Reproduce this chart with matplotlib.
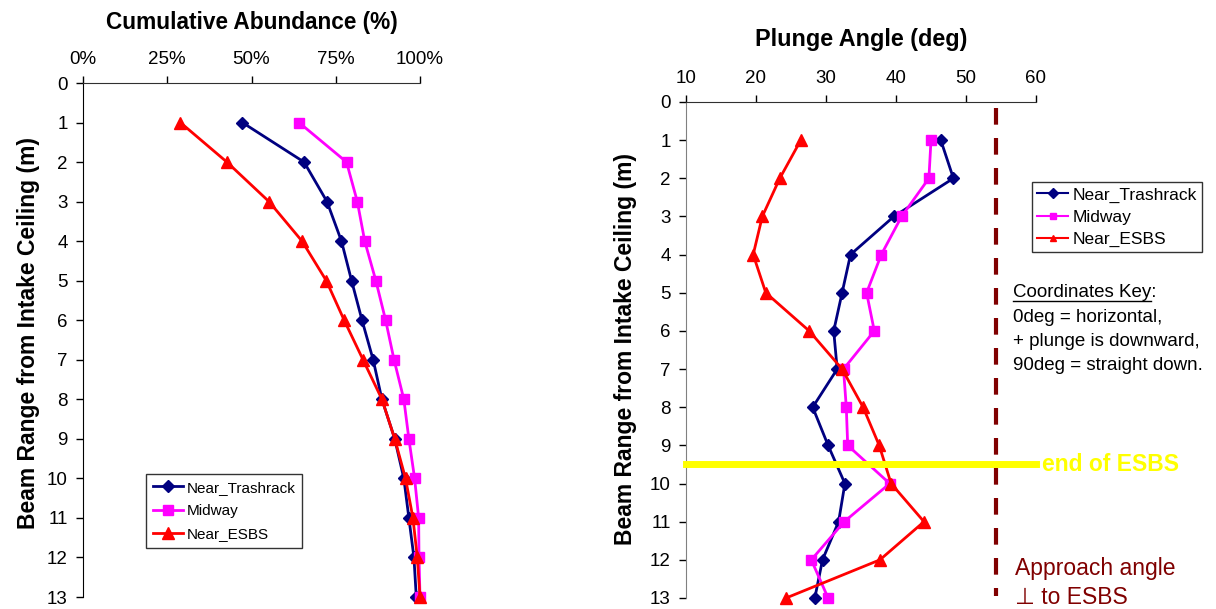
import numpy as np
import matplotlib
matplotlib.use("Agg")
import matplotlib.pyplot as plt
from matplotlib.lines import Line2D

plt.rcParams['font.family'] = ['Liberation Sans', 'DejaVu Sans']

# beam range bins (m)
depth = np.arange(1, 14)

# cumulative abundance (%)
abund_trash = [47.3, 65.6, 72.4, 76.7, 79.7, 82.8, 86.1, 88.7, 92.5, 95.2, 96.7, 98.2, 98.9]
abund_mid = [64.1, 78.2, 81.4, 83.6, 86.9, 89.8, 92.3, 95.2, 96.7, 98.4, 99.6, 99.7, 100.0]
abund_esbs = [28.9, 42.7, 55.2, 65.0, 72.2, 77.5, 83.1, 88.7, 92.5, 95.7, 97.9, 99.2, 100.0]

# plunge angle (deg)
plunge_trash = [46.4, 48.2, 39.7, 33.5, 32.3, 31.1, 31.6, 28.1, 30.3, 32.7, 31.8, 29.5, 28.4]
plunge_mid = [45.0, 44.7, 40.8, 37.9, 35.8, 36.9, 32.5, 32.9, 33.1, 39.1, 32.6, 27.9, 30.3]
plunge_esbs = [26.4, 23.4, 20.9, 19.6, 21.4, 27.6, 32.3, 35.3, 37.6, 39.3, 44.0, 37.7, 24.3]

series_names = ['Near_Trashrack', 'Midway', 'Near_ESBS']
colors = ['#000080', '#FF00FF', '#FF0000']
markers = ['D', 's', '^']
msizes = [6, 7, 8]

perp_angle = 54.35   # approach angle perpendicular to ESBS
esbs_end = 9.5       # end of ESBS (m)

fig = plt.figure(figsize=(12.16, 6.09), dpi=100)
W, H = 1216, 609
ax1 = fig.add_axes([83 / W, 1 - 597 / H, (420 - 83) / W, (597 - 83) / H])
ax2 = fig.add_axes([686 / W, 1 - 598 / H, (1036 - 686) / W, (598 - 102) / H])


def style_axis(ax, spine_col, ylab_xy):
    ax.set_ylim(13, 0)
    ax.set_yticks(range(0, 14))
    ax.xaxis.tick_top()
    ax.xaxis.set_label_position('top')
    ax.spines['right'].set_visible(False)
    ax.spines['bottom'].set_visible(False)
    ax.spines['top'].set_color('#303030')
    ax.spines['left'].set_color(spine_col)
    ax.tick_params(axis='both', direction='out', length=5, width=1,
                   labelsize=13.5, colors='black')
    ax.tick_params(axis='x', pad=6)
    ax.tick_params(axis='y', pad=6)
    ax.set_ylabel('Beam Range from Intake Ceiling (m)', fontsize=16.5,
                  fontweight='bold')
    ax.yaxis.set_label_coords(*ylab_xy)


# left: cumulative abundance
for vals, name, c, m, s in zip([abund_trash, abund_mid, abund_esbs],
                               series_names, colors, markers, msizes):
    ax1.plot(vals, depth, color=c, marker=m, markersize=s, lw=2, label=name,
             clip_on=False)
ax1.set_xlim(0, 100)
ax1.set_xticks([0, 25, 50, 75, 100])
ax1.set_xticklabels(['0%', '25%', '50%', '75%', '100%'])
style_axis(ax1, '#000000', (-0.127, 0.514))
ax1.set_xlabel('Cumulative Abundance (%)', fontsize=16.3, fontweight='bold',
               labelpad=16)
leg1 = ax1.legend(loc='lower left', bbox_to_anchor=(146 / W, 1 - 548 / H),
                  bbox_transform=fig.transFigure, frameon=True, fancybox=False,
                  edgecolor='black', fontsize=11, handlelength=2.0,
                  handletextpad=0.2, borderpad=0.45, labelspacing=0.6,
                  borderaxespad=0)
leg1.get_frame().set_linewidth(1)

# right: plunge angle
lines2 = []
for vals, name, c, m, s in zip([plunge_trash, plunge_mid, plunge_esbs],
                               series_names, colors, markers, msizes):
    ln, = ax2.plot(vals, depth, color=c, marker=m, markersize=s, lw=2,
                   label=name, clip_on=False)
    lines2.append(ln)
ax2.set_xlim(10, 60)
ax2.set_xticks(range(10, 61, 10))
style_axis(ax2, '#808080', (-0.140, 0.502))
ax2.set_xlabel('Plunge Angle (deg)', fontsize=16.8, fontweight='bold',
               labelpad=17)

ax2.plot([perp_angle, perp_angle], [0.15, 12.95], color='#800000', lw=3,
         dashes=(4, 3.2), clip_on=False)
ax2.plot([10, 60], [esbs_end, esbs_end], color='#FFFF00', lw=5,
         clip_on=False, zorder=5)
ax2.text(60.9, esbs_end, 'end of ESBS', color='#FFFF00', fontsize=16.5,
         fontweight='bold', va='center', ha='left', clip_on=False)

leg2 = fig.legend(handles=lines2, loc='upper left',
                  bbox_to_anchor=(1032 / W, 1 - 182 / H), frameon=True,
                  fancybox=False, edgecolor='black', fontsize=12.5,
                  handlelength=1.8, handletextpad=0.25, borderpad=0.3,
                  labelspacing=0.4, borderaxespad=0)
for ln in leg2.get_lines():
    ln.set_linewidth(1.5)
    ln.set_markersize(5)
leg2.get_frame().set_linewidth(1)

# coordinates key
kx = 1013 / W
t = fig.text(kx, 1 - 292 / H, 'Coordinates Key', fontsize=13.5,
             va='center', ha='left')
fig.text(kx, 1 - 292 / H, 'Coordinates Key:', fontsize=13.5,
         va='center', ha='left')
t.set_alpha(0)
key_lines = ['0deg = horizontal,', '+ plunge is downward,',
             '90deg = straight down.']
for i, s in enumerate(key_lines):
    fig.text(kx, 1 - (317 + 24 * i) / H, s, fontsize=13.5, va='center',
             ha='left')
fig.canvas.draw()
bb = t.get_window_extent().transformed(fig.transFigure.inverted())
fig.add_artist(Line2D([bb.x0, bb.x1], [bb.y0 - 0.001, bb.y0 - 0.001],
                      color='black', lw=1, transform=fig.transFigure))

fig.text(1015 / W, 1 - 569 / H, 'Approach angle', color='#800000',
         fontsize=16.5, va='center', ha='left')
fig.text(1015 / W, 1 - 598 / H, '\u22a5 to ESBS', color='#800000',
         fontsize=16.5, va='center', ha='left',
         family=['Liberation Sans', 'DejaVu Sans'])

fig.savefig('out.png', dpi=100)
